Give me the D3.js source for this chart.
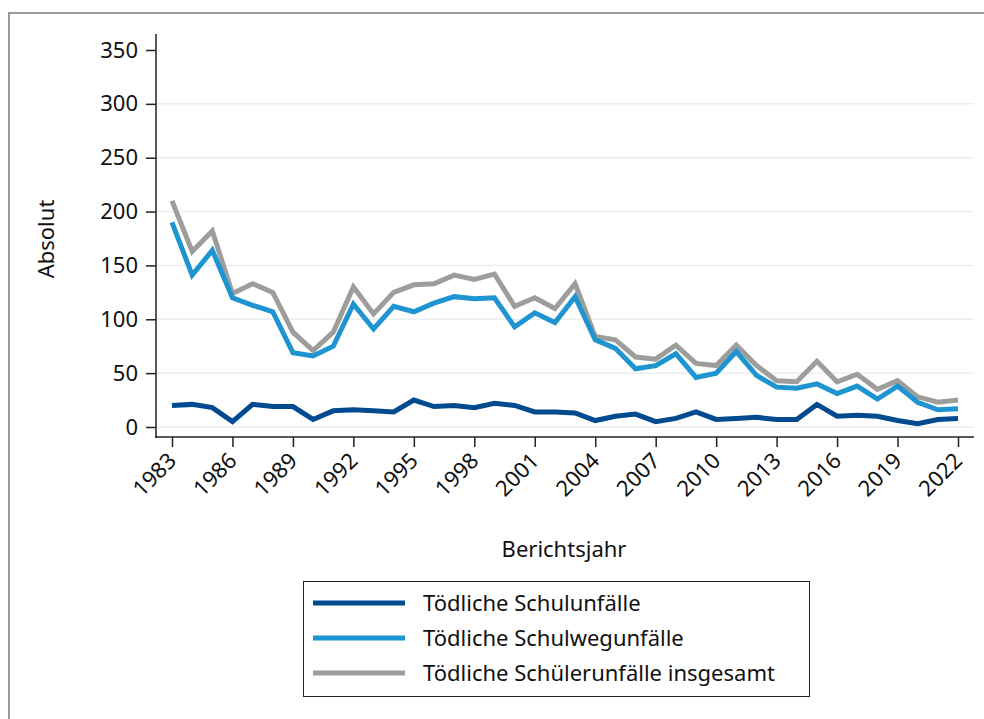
<!DOCTYPE html>
<html><head><meta charset="utf-8">
<script src="https://cdn.jsdelivr.net/npm/d3@7"></script>
<style>body{margin:0;background:#fff}svg{display:block}</style>
</head><body>
<svg id="chart" width="984" height="719"></svg>
<script>
const years = d3.range(1983, 2023);
const schulunfaelle = [20,21,18,5,21,19,19,7,15,16,15,14,25,19,20,18,22,20,14,14,13,6,10,12,5,8,14,7,8,9,7,7,21,10,11,10,6,3,7,8];
const schulwegunfaelle = [190,141,164,120,113,107,69,66,75,114,91,112,107,115,121,119,120,93,106,97,121,81,73,54,57,68,46,50,70,48,37,36,40,31,38,26,38,23,16,17];
const insgesamt = [210,163,182,124,133,125,88,71,88,130,105,125,132,133,141,137,142,112,120,110,133,84,81,65,63,76,59,57,76,57,43,42,61,42,49,35,43,28,23,25];
const seriesNames = ["Tödliche Schulunfälle","Tödliche Schulwegunfälle","Tödliche Schülerunfälle insgesamt"];
const seriesColors = ["#004a8f","#1e95d0","#9d9d9b"];
const yTicks = [0,50,100,150,200,250,300,350];
const xTicks = [1983,1986,1989,1992,1995,1998,2001,2004,2007,2010,2013,2016,2019,2022];

const FONT = "'Noto Sans', sans-serif";
const FS = 22;
const svg = d3.select("#chart");

svg.append("rect").attr("x",9).attr("y",13).attr("width",1000).attr("height",720)
  .attr("fill","#fff").attr("stroke","#9a9a9a").attr("stroke-width",2);

const x = d3.scaleLinear().domain([1983,2022]).range([172,958]);
const y = d3.scaleLinear().domain([0,350]).range([427,50]);

// grid
svg.append("g").selectAll("line").data(yTicks.filter(d=>d<350)).join("line")
  .attr("x1",157).attr("x2",974).attr("y1",d=>y(d)).attr("y2",d=>y(d))
  .attr("stroke","#e9efee").attr("stroke-width",1.5);

// y axis
const yAxis = svg.append("g").attr("transform","translate(156,0)")
  .call(d3.axisLeft(y).tickValues(yTicks).tickSize(10).tickPadding(8));
yAxis.select(".domain").remove();
svg.append("line").attr("x1",156).attr("x2",156).attr("y1",34).attr("y2",438).attr("stroke","#222").attr("stroke-width",1.5);
yAxis.selectAll(".tick line").attr("stroke","#222").attr("stroke-width",1.5);
yAxis.selectAll("text").attr("font-family",FONT).attr("font-size",FS).attr("fill","#111");

// x axis
const xAxis = svg.append("g").attr("transform","translate(0,437)")
  .call(d3.axisBottom(x).tickValues(xTicks).tickFormat(d3.format("d")).tickSize(10).tickPadding(4));
xAxis.select(".domain").remove();
svg.append("line").attr("x1",155).attr("x2",974).attr("y1",437).attr("y2",437).attr("stroke","#222").attr("stroke-width",1.5);
xAxis.selectAll(".tick line").attr("stroke","#222").attr("stroke-width",1.5);
xAxis.selectAll("text").attr("font-family",FONT).attr("font-size",FS).attr("fill","#111")
  .attr("text-anchor","end").attr("dy",null)
  .attr("transform","translate(1,21) rotate(-45)").attr("y",0).attr("x",0).attr("dominant-baseline","middle");

// titles
svg.append("text").attr("transform","translate(54,239) rotate(-90)").attr("text-anchor","middle")
  .attr("font-family",FONT).attr("font-size",FS).attr("fill","#111").text("Absolut");
svg.append("text").attr("x",564).attr("y",557).attr("text-anchor","middle")
  .attr("font-family",FONT).attr("font-size",FS).attr("fill","#111").text("Berichtsjahr");

// lines
const line = d3.line().x((d,i)=>x(years[i])).y(d=>y(d));
const data = [insgesamt, schulwegunfaelle, schulunfaelle];
const cols = [seriesColors[2], seriesColors[1], seriesColors[0]];
svg.append("g").selectAll("path").data(data).join("path")
  .attr("d",d=>line(d)).attr("fill","none").attr("stroke",(d,i)=>cols[i])
  .attr("stroke-width",5).attr("stroke-linejoin","miter");

// legend
const lg = svg.append("g");
lg.append("rect").attr("x",303.5).attr("y",581.5).attr("width",506).attr("height",115)
  .attr("fill","#fff").attr("stroke","#222").attr("stroke-width",1);
const rowsY = [603,638,673];
seriesNames.forEach((n,i)=>{
  lg.append("line").attr("x1",313).attr("x2",405).attr("y1",rowsY[i]).attr("y2",rowsY[i])
    .attr("stroke",seriesColors[i]).attr("stroke-width",5);
  lg.append("text").attr("x",423).attr("y",rowsY[i]).attr("dy","0.35em")
    .attr("font-family",FONT).attr("font-size",FS).attr("fill","#111").text(n);
});
</script>
</body></html>
